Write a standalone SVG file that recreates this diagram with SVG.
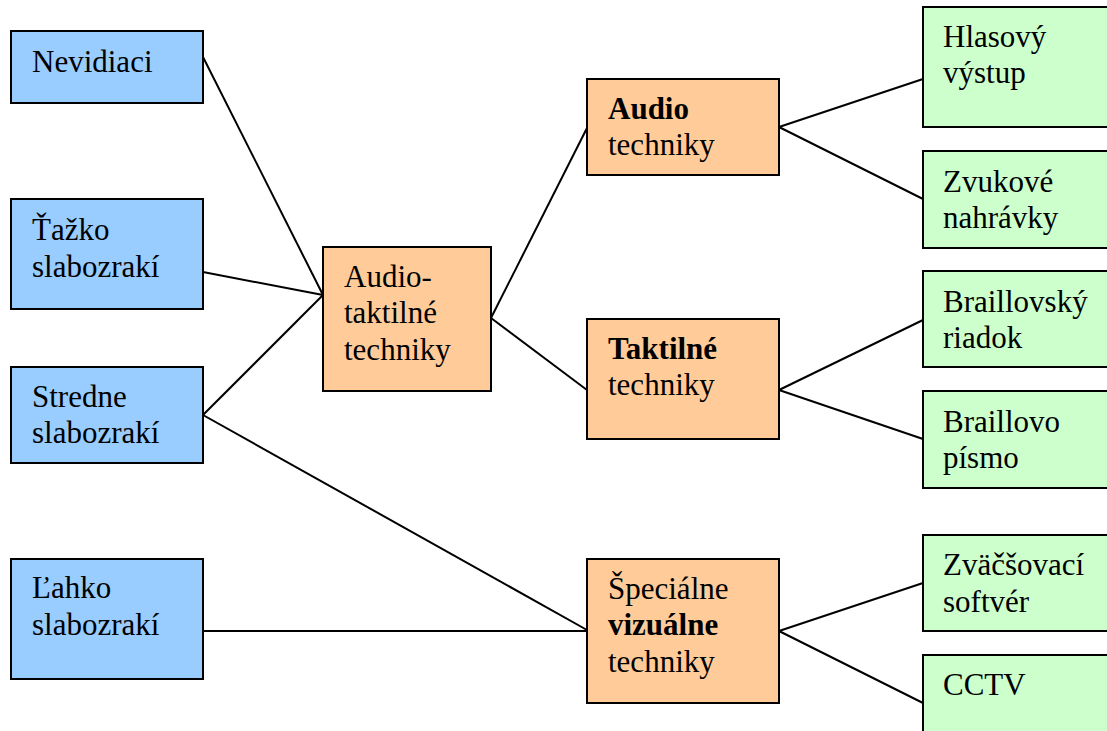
<svg xmlns="http://www.w3.org/2000/svg" width="1107" height="731" viewBox="0 0 1107 731">
<defs>
<style type="text/css">
rect{stroke:#000;stroke-width:2}
.b{fill:#99CCFF}
.o{fill:#FFCC99}
.g{fill:#CCFFCC}
.bd{font-weight:bold}
#connectors line{stroke:#000;stroke-width:2}
</style>
</defs>
<rect width="1107" height="731" fill="#fff" style="stroke:none"/>
<g id="connectors">
<line x1="203" y1="57" x2="323" y2="295"/>
<line x1="203" y1="272" x2="323" y2="295"/>
<line x1="203" y1="415" x2="323" y2="295"/>
<line x1="203" y1="415" x2="587" y2="630"/>
<line x1="203" y1="631" x2="587" y2="631"/>
<line x1="491" y1="318" x2="587" y2="128"/>
<line x1="491" y1="318" x2="587" y2="390"/>
<line x1="779" y1="127" x2="923" y2="79"/>
<line x1="779" y1="127" x2="923" y2="199"/>
<line x1="779" y1="390" x2="923" y2="320"/>
<line x1="779" y1="390" x2="923" y2="439"/>
<line x1="779" y1="631" x2="923" y2="583"/>
<line x1="779" y1="631" x2="923" y2="703"/>
</g>
<g font-family="Liberation Serif, DejaVu Serif, serif" font-size="31" fill="#000">
<g id="nevidiaci"><rect class="b" x="11" y="31" width="192" height="72"/><text x="32" y="72">Nevidiaci</text></g>
<g id="tazko"><rect class="b" x="11" y="199" width="192" height="110"/><text x="32" y="240">Ťažko</text><text x="32" y="277">slabozrakí</text></g>
<g id="stredne"><rect class="b" x="11" y="367" width="192" height="96"/><text x="32" y="407">Stredne</text><text x="32" y="443">slabozrakí</text></g>
<g id="lahko"><rect class="b" x="11" y="559" width="192" height="120"/><text x="32" y="598">Ľahko</text><text x="32" y="635">slabozrakí</text></g>
<g id="audiotaktilne"><rect class="o" x="323" y="247" width="168" height="144"/><text x="344" y="287">Audio-</text><text x="344" y="323">taktilné</text><text x="344" y="360">techniky</text></g>
<g id="audio"><rect class="o" x="587" y="79" width="192" height="96"/><text x="608" y="119" class="bd">Audio</text><text x="608" y="155">techniky</text></g>
<g id="taktilne"><rect class="o" x="587" y="319" width="192" height="120"/><text x="608" y="359" class="bd">Taktilné</text><text x="608" y="395">techniky</text></g>
<g id="specialne"><rect class="o" x="587" y="559" width="192" height="144"/><text x="608" y="599">Špeciálne</text><text x="608" y="635" class="bd">vizuálne</text><text x="608" y="672">techniky</text></g>
<g id="hlasovy"><rect class="g" x="923" y="7" width="192" height="120"/><text x="943" y="47">Hlasový</text><text x="943" y="83">výstup</text></g>
<g id="zvukove"><rect class="g" x="923" y="151" width="192" height="97"/><text x="943" y="192">Zvukové</text><text x="943" y="228">nahrávky</text></g>
<g id="braillovsky"><rect class="g" x="923" y="271" width="192" height="96"/><text x="943" y="312">Braillovský</text><text x="943" y="348">riadok</text></g>
<g id="braillovo"><rect class="g" x="923" y="391" width="192" height="97"/><text x="943" y="432">Braillovo</text><text x="943" y="468">písmo</text></g>
<g id="zvacsovaci"><rect class="g" x="923" y="535" width="192" height="96"/><text x="943" y="575">Zväčšovací</text><text x="943" y="612">softvér</text></g>
<g id="cctv"><rect class="g" x="923" y="655" width="192" height="120"/><text x="943" y="695">CCTV</text></g>
</g>
</svg>
